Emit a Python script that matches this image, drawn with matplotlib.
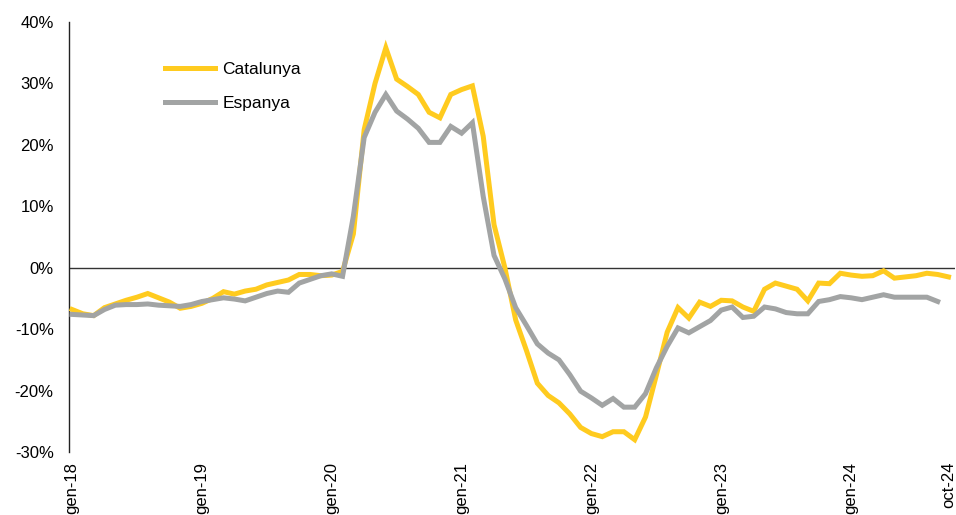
import matplotlib
matplotlib.use("Agg")
import matplotlib.pyplot as plt
from matplotlib.ticker import FuncFormatter

plt.rcParams['font.family'] = ['Liberation Sans', 'DejaVu Sans']

catalunya = [
    -6.8, -7.5, -7.8, -6.5, -5.9, -5.3, -4.8, -4.2, -4.9, -5.6, -6.6, -6.3,
    -5.8, -5.0, -3.9, -4.3, -3.8, -3.5, -2.8, -2.4, -2.0, -1.1, -1.1, -1.3,
    -1.2, -0.6, 5.5, 22.5, 30.0, 35.8, 30.7, 29.5, 28.2, 25.3, 24.4, 28.2,
    29.0, 29.6, 21.4, 7.0, 0.0, -8.5, -13.5, -18.8, -20.8, -22.0, -23.8, -26.0,
    -27.0, -27.5, -26.7, -26.7, -28.0, -24.3, -17.5, -10.5, -6.5, -8.2, -5.6, -6.3,
    -5.3, -5.4, -6.4, -7.1, -3.5, -2.5, -3.0, -3.5, -5.4, -2.5, -2.6, -0.9,
    -1.2, -1.4, -1.3, -0.5, -1.7, -1.5, -1.3, -0.9, -1.1, -1.5,
]
espanya = [
    -7.6, -7.7, -7.8, -6.8, -6.1, -6.0, -6.0, -5.9, -6.1, -6.2, -6.3, -6.0,
    -5.5, -5.2, -4.9, -5.1, -5.4, -4.8, -4.2, -3.8, -4.0, -2.5, -1.9, -1.3,
    -1.0, -1.4, 8.4, 21.2, 25.3, 28.2, 25.5, 24.2, 22.7, 20.4, 20.4, 23.0,
    21.9, 23.6, 11.6, 2.0, -1.8, -6.5, -9.4, -12.4, -13.9, -15.0, -17.4, -20.1,
    -21.2, -22.4, -21.3, -22.7, -22.7, -20.5, -16.3, -12.8, -9.8, -10.6, -9.6, -8.6,
    -6.9, -6.4, -8.1, -7.9, -6.4, -6.7, -7.3, -7.5, -7.5, -5.5, -5.2, -4.7,
    -4.9, -5.2, -4.8, -4.4, -4.8, -4.8, -4.8, -4.8, -5.5,
]
tick_positions = [0, 12, 24, 36, 48, 60, 72, 81]
tick_labels = ['gen-18', 'gen-19', 'gen-20', 'gen-21', 'gen-22', 'gen-23', 'gen-24', 'oct-24']

W, H = 956, 515
fig = plt.figure(figsize=(W / 100, H / 100), dpi=100)
ax = fig.add_axes([69 / W, (H - 452) / H, (955 - 69) / W, (452 - 22) / H])

yellow = '#FFCB1F'
gray = '#A2A4A4'
ax.plot(range(len(catalunya)), catalunya, color=yellow, lw=3.6, label='Catalunya',
        solid_joinstyle='miter', zorder=3)
ax.plot(range(len(espanya)), espanya, color=gray, lw=3.6, label='Espanya',
        solid_joinstyle='miter', zorder=4)

ax.axhline(0, color='#333333', lw=1.0, zorder=2)

ax.set_xlim(-0.28, 81.6)
ax.set_ylim(-30, 40)
ax.set_yticks(range(-30, 41, 10))
ax.yaxis.set_major_formatter(FuncFormatter(lambda v, p: f'{int(v)}%'))
ax.set_xticks(tick_positions)
ax.set_xticklabels(tick_labels, rotation=90, va='top', ha='center')

for s in ['top', 'right', 'bottom']:
    ax.spines[s].set_visible(False)
ax.spines['left'].set_color('#222222')
ax.spines['left'].set_linewidth(1.0)
ax.tick_params(axis='y', length=0, pad=11, labelsize=12, colors='#000000')
ax.tick_params(axis='x', length=0, pad=7, labelsize=12, colors='#000000')

leg = ax.legend(loc='upper left', bbox_to_anchor=(165 / W, (H - 62) / H),
                bbox_transform=fig.transFigure, frameon=False, fontsize=12.5,
                handlelength=2.9, handletextpad=0.4, labelspacing=1.1,
                borderpad=0, borderaxespad=0)

fig.savefig('out.png', dpi=100)
